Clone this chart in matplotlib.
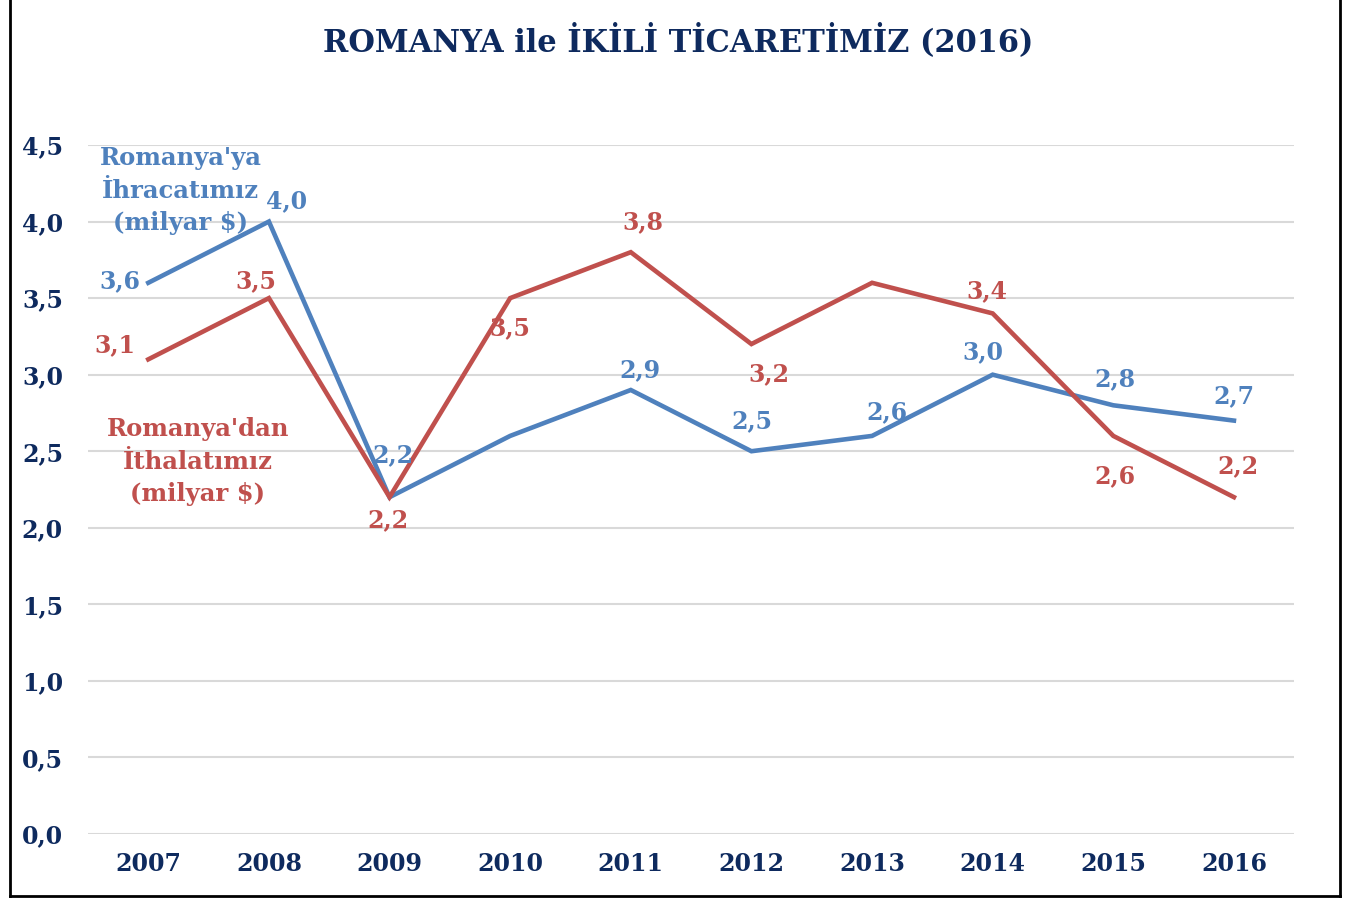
import matplotlib
matplotlib.use('Agg')
import matplotlib.pyplot as plt
from matplotlib.lines import Line2D

years = ['2007', '2008', '2009', '2010', '2011', '2012', '2013', '2014', '2015', '2016']
ihracat = [3.6, 4.0, 2.2, 2.6, 2.9, 2.5, 2.6, 3.0, 2.8, 2.7]
ithalat = [3.1, 3.5, 2.2, 3.5, 3.8, 3.2, 3.6, 3.4, 2.6, 2.2]
yticks = [0.0, 0.5, 1.0, 1.5, 2.0, 2.5, 3.0, 3.5, 4.0, 4.5]

# which points carry a value label (the reference skips a couple)
ihracat_lbl = [True, True, True, False, True, True, True, True, True, True]
ithalat_lbl = [True, True, True, True, True, True, False, True, True, True]

# label offsets in pixels (dx, dy)
ihr_off = [(-28, 2), (18, 20), (3, 42), (0, 0), (9, 20), (0, 30), (15, 24), (-10, 23), (2, 26), (0, 24)]
ith_off = [(-33, 14), (-13, 17), (-2, -23), (0, -30), (12, 30), (17, -30), (0, 0), (-6, 22), (2, -40), (4, 31)]

blue = '#4F81BD'
red = '#C0504D'
navy = '#0E2A5E'
font = 'DejaVu Serif'

fig = plt.figure(figsize=(13.51, 8.99), dpi=100)
ax = fig.add_axes([0.0651, 0.0723, 0.8929, 0.7664])

x = list(range(len(years)))
ax.plot(x, ihracat, color=blue, lw=3.3, solid_joinstyle='miter', zorder=3)
ax.plot(x, ithalat, color=red, lw=3.3, solid_joinstyle='miter', zorder=3)

for i in x:
    if ihracat_lbl[i]:
        ax.annotate(('%.1f' % ihracat[i]).replace('.', ','), (i, ihracat[i]),
                    xytext=ihr_off[i], textcoords='offset pixels', ha='center', va='center',
                    color=blue, fontsize=17, fontweight='bold', family=font, zorder=4)
    if ithalat_lbl[i]:
        ax.annotate(('%.1f' % ithalat[i]).replace('.', ','), (i, ithalat[i]),
                    xytext=ith_off[i], textcoords='offset pixels', ha='center', va='center',
                    color=red, fontsize=17, fontweight='bold', family=font, zorder=4)

ax.text(0.27, 4.2, "Romanya'ya\nİhracatımız\n(milyar $)", ha='center', va='center',
        color=blue, fontsize=17.5, fontweight='bold', family=font, linespacing=1.45)
ax.text(0.41, 2.43, "Romanya'dan\nİthalatımız\n(milyar $)", ha='center', va='center',
        color=red, fontsize=17.5, fontweight='bold', family=font, linespacing=1.45)

ax.set_xlim(-0.5, len(years) - 0.5)
ax.set_ylim(0, 4.5)
ax.set_xticks(x)
ax.set_xticklabels(years)
ax.set_yticks(yticks)
ax.set_yticklabels([('%.1f' % v).replace('.', ',') for v in yticks])
for lab in ax.get_xticklabels() + ax.get_yticklabels():
    lab.set_family(font)
    lab.set_fontweight('bold')
    lab.set_fontsize(17)
    lab.set_color(navy)
ax.tick_params(length=0)
ax.tick_params(axis='x', pad=13)
ax.tick_params(axis='y', pad=18)
ax.grid(axis='y', color='#D9D9D9', lw=1.5)
ax.set_axisbelow(True)
for s in ax.spines.values():
    s.set_visible(False)

fig.text(0.502, 0.955, 'ROMANYA ile İKİLİ TİCARETİMİZ (2016)', ha='center', va='center',
         color=navy, fontsize=22, fontweight='bold', family=font)

# outer frame: left, bottom, right (top edge lies outside the picture)
for xs, ys in [([0.0074, 0.0074], [0.0033, 1.0]),
               ([0.0074, 0.9922], [0.0033, 0.0033]),
               ([0.9922, 0.9922], [0.0033, 1.0])]:
    fig.add_artist(Line2D(xs, ys, transform=fig.transFigure, color='black', lw=2))

fig.savefig('out.png', dpi=100)
